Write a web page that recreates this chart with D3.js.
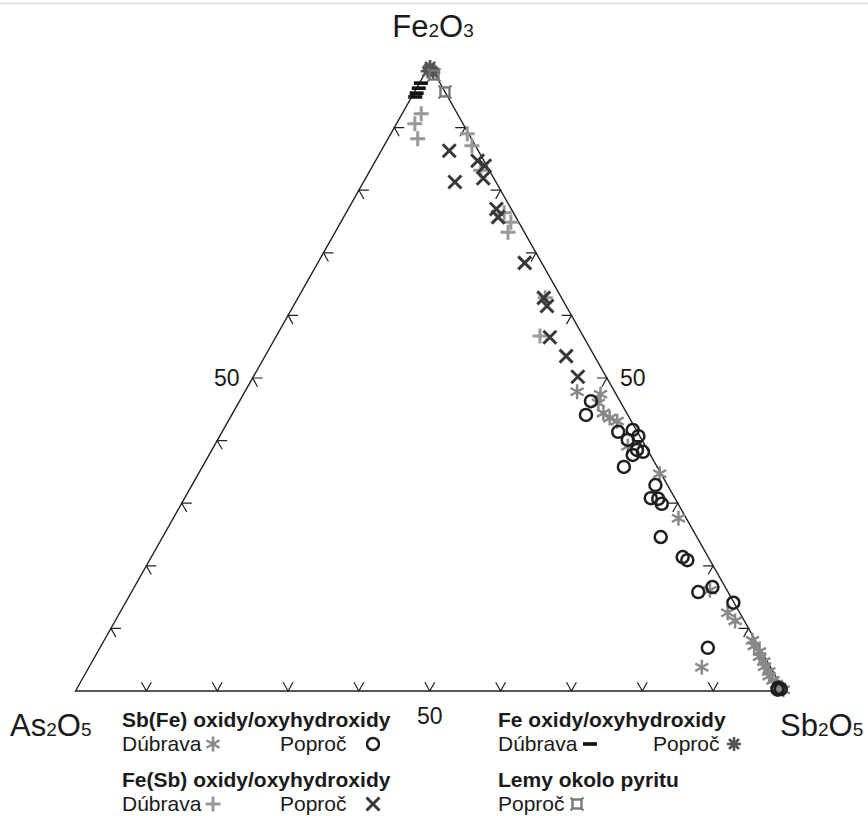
<!DOCTYPE html>
<html>
<head>
<meta charset="utf-8">
<script src="https://cdn.jsdelivr.net/npm/d3@7"></script>
<style>
  body { margin: 0; background: #fff; }
  text { font-family: "Liberation Sans", Arial, sans-serif; }
</style>
</head>
<body>
<svg id="chart" width="868" height="816"></svg>
<script>
// each point is [Fe2O3 %, As2O5 %], Sb2O5 is the rest
const sbFeDubrava = [
  [47.8, 5.3], [47.4, 2.2], [46.0, 3.2], [44.4, 3.3], [43.6, 2.8], [43.1, 2.0],
  [39.1, 2.5], [34.7, 0.2], [27.6, 1.1], [16.1, 2.4], [12.5, 1.7], [11.2, 1.3],
  [3.8, 9.7], [8.1, 0.4], [7.2, 0.6], [6.3, 0.3], [5.5, 0.7], [4.7, 0.5],
  [3.9, 0.8], [3.1, 0.6], [2.4, 0.9], [1.7, 0.7], [1.1, 0.5], [0.6, 0.3], [0.2, 0]
];
const sbFePoproc = [
  [46.3, 4.1], [44.1, 5.9], [41.4, 2.7], [41.7, 0.5], [40.7, 0.2], [40.1, 2.0],
  [38.5, 1.5], [38.2, 0.8], [37.7, 2.5], [35.8, 4.7], [32.9, 1.7], [30.8, 3.4],
  [30.7, 2.4], [29.9, 2.3], [24.6, 5.1], [21.4, 3.6], [20.9, 3.2], [15.8, 4.2],
  [16.6, 1.8], [14.1, 0.1], [6.9, 7.3], [0.5, 0.6], [0.3, 0.3], [0.2, 0.8]
];
const feSbDubrava = [
  [92.2, 5.1], [90.6, 6.8], [88.2, 7.6], [89.0, 0.2], [87.1, 0.5], [83.2, 1.2],
  [76.4, 1.3], [74.9, 1.1], [73.3, 2.3], [56.7, 6.1], [62.8, 2.3]
];
const feSbPoproc = [
  [86.3, 4.1], [81.3, 5.8], [84.7, 0.9], [83.9, 0.3], [81.9, 1.5], [77.0, 2.1],
  [75.7, 2.5], [68.4, 2.4], [62.8, 2.5], [61.5, 2.7], [56.5, 4.8], [53.5, 4.0], [50.2, 4.0]
];
const feDubrava = [[97.1, 2.7], [96.3, 3.4], [95.5, 4.1], [94.9, 4.6]];
const fePoproc = [[99.4, 0.3], [99.0, 0.8], [98.8, 0.1], [99.7, 0.1]];
const lemyPoproc = [[98.4, 0.2], [95.7, 0]];

const tickValues = [10, 20, 30, 40, 50, 60, 70, 80, 90];
const labelledTicks = [50];

const svg = d3.select('#chart');

// top border line seen in the scan
svg.append('line').attr('x1', 0).attr('x2', 868).attr('y1', 3.5).attr('y2', 3.5)
  .attr('stroke', '#dcdcdc').attr('stroke-width', 1.5);

// x runs along Sb2O5 + Fe2O3/2, y along Fe2O3
const x = d3.scaleLinear().domain([0, 100]).range([75.5, 784]);
const y = d3.scaleLinear().domain([0, 100]).range([691, 65]);

function pos(d) {
  const fe = d[0], as = d[1], sb = 100 - fe - as;
  return [x(sb + fe / 2), y(fe)];
}

const apex = pos([100, 0]), cornerL = pos([0, 100]), cornerR = pos([0, 0]);

svg.append('path')
  .attr('d', `M${cornerL}L${apex}L${cornerR}Z`)
  .attr('fill', 'none')
  .attr('stroke', '#222')
  .attr('stroke-width', 1.4);

// tick marks: two short arms pointing into the triangle
const L = 10;
const rx = (cornerR[0] - apex[0]), ry = (cornerR[1] - apex[1]);
const rl = Math.hypot(rx, ry);
const ux = rx / rl * L, uy = ry / rl * L;

const tickG = svg.append('g').attr('stroke', '#222').attr('stroke-width', 1.2).attr('fill', 'none');
tickValues.forEach(t => {
  const b = pos([0, 100 - t]);
  tickG.append('path').attr('d', `M${b[0] - ux},${b[1] - uy}L${b[0]},${b[1]}L${b[0] + ux},${b[1] - uy}`);
  const l = pos([t, 100 - t]);
  tickG.append('path').attr('d', `M${l[0] + L},${l[1]}L${l[0]},${l[1]}L${l[0] + ux},${l[1] + uy}`);
  const r = pos([t, 0]);
  tickG.append('path').attr('d', `M${r[0] - L},${r[1]}L${r[0]},${r[1]}L${r[0] - ux},${r[1] + uy}`);
});

labelledTicks.forEach(t => {
  const b = pos([0, 100 - t]);
  svg.append('text').attr('x', b[0]).attr('y', 724).attr('text-anchor', 'middle')
    .attr('font-size', 23).attr('fill', '#1a1a1a').text(t);
  const l = pos([t, 100 - t]);
  svg.append('text').attr('x', l[0] - 13).attr('y', l[1] + 8).attr('text-anchor', 'end')
    .attr('font-size', 23).attr('fill', '#1a1a1a').text(t);
  const r = pos([t, 0]);
  svg.append('text').attr('x', r[0] + 13).attr('y', r[1] + 8).attr('text-anchor', 'start')
    .attr('font-size', 23).attr('fill', '#1a1a1a').text(t);
});

// vertex labels with small index digits
function formula(xp, yp, parts, anchor) {
  const t = svg.append('text').attr('x', xp).attr('y', yp)
    .attr('text-anchor', anchor).attr('fill', '#1a1a1a');
  parts.forEach(p => t.append('tspan').attr('font-size', p[1] ? 19 : 31).text(p[0]));
}
formula(433, 37, [['Fe', 0], ['2', 1], ['O', 0], ['3', 1]], 'middle');
formula(10, 736, [['As', 0], ['2', 1], ['O', 0], ['5', 1]], 'start');
formula(780, 736, [['Sb', 0], ['2', 1], ['O', 0], ['5', 1]], 'start');

// marker shapes
const shapes = {
  star: { color: '#888', draw: g => g.append('path').attr('d', 'M0,-7.5V7.5M-6.5,-3.75L6.5,3.75M-6.5,3.75L6.5,-3.75')
    .attr('stroke-width', 2.5).attr('fill', 'none') },
  circle: { color: '#1f1f1f', draw: g => g.append('circle').attr('r', 6)
    .attr('stroke-width', 2.5).attr('fill', 'none') },
  plus: { color: '#999', draw: g => g.append('path').attr('d', 'M-7.5,0H7.5M0,-7.5V7.5')
    .attr('stroke-width', 3).attr('fill', 'none') },
  cross: { color: '#383838', draw: g => g.append('path').attr('d', 'M-6.5,-6.5L6.5,6.5M-6.5,6.5L6.5,-6.5')
    .attr('stroke-width', 3).attr('fill', 'none') },
  dash: { color: '#111', draw: g => g.append('rect').attr('x', -7).attr('y', -1.8)
    .attr('width', 14).attr('height', 3.6).attr('stroke', 'none') },
  gear: { color: '#555', draw: g => {
    g.append('path').attr('d', 'M-7,0H7M0,-7V7M-5,-5L5,5M-5,5L5,-5').attr('stroke-width', 2.6).attr('fill', 'none');
    g.append('circle').attr('r', 3).attr('stroke', 'none');
  } },
  lemy: { color: '#777', draw: g => {
    g.append('rect').attr('x', -4.5).attr('y', -4.5).attr('width', 9).attr('height', 9)
      .attr('stroke-width', 2.4).attr('fill', 'none');
    g.append('path').attr('d', 'M-4.5,-4.5l-2,-2M4.5,-4.5l2,-2M-4.5,4.5l-2,2M4.5,4.5l2,2')
      .attr('stroke-width', 2).attr('fill', 'none');
  } }
};

function marker(xp, yp, key) {
  const s = shapes[key];
  const g = svg.append('g').attr('transform', `translate(${xp},${yp})`)
    .attr('stroke', s.color).attr('fill', s.color);
  s.draw(g);
}

const series = [
  [feSbDubrava, 'plus'],
  [feSbPoproc, 'cross'],
  [sbFeDubrava, 'star'],
  [sbFePoproc, 'circle'],
  [feDubrava, 'dash'],
  [fePoproc, 'gear'],
  [lemyPoproc, 'lemy']
];
series.forEach(([data, key]) => {
  data.forEach(d => {
    const p = pos(d);
    marker(p[0], p[1], key);
  });
});

// legend
function label(xp, yp, txt, bold) {
  svg.append('text').attr('x', xp).attr('y', yp).attr('font-size', 21)
    .attr('font-weight', bold ? 'bold' : 'normal').attr('fill', '#1a1a1a').text(txt);
}
label(122, 727, 'Sb(Fe) oxidy/oxyhydroxidy', true);
label(122, 751, 'Dúbrava');
marker(213, 744, 'star');
label(280, 751, 'Poproč');
marker(373, 744, 'circle');

label(122, 787, 'Fe(Sb) oxidy/oxyhydroxidy', true);
label(122, 811, 'Dúbrava');
marker(213, 804, 'plus');
label(280, 811, 'Poproč');
marker(373, 804, 'cross');

label(498, 727, 'Fe oxidy/oxyhydroxidy', true);
label(498, 751, 'Dúbrava');
marker(590, 744, 'dash');
label(653, 751, 'Poproč');
marker(734, 744, 'gear');

label(498, 787, 'Lemy okolo pyritu', true);
label(498, 811, 'Poproč');
marker(577, 804, 'lemy');
</script>
</body>
</html>
